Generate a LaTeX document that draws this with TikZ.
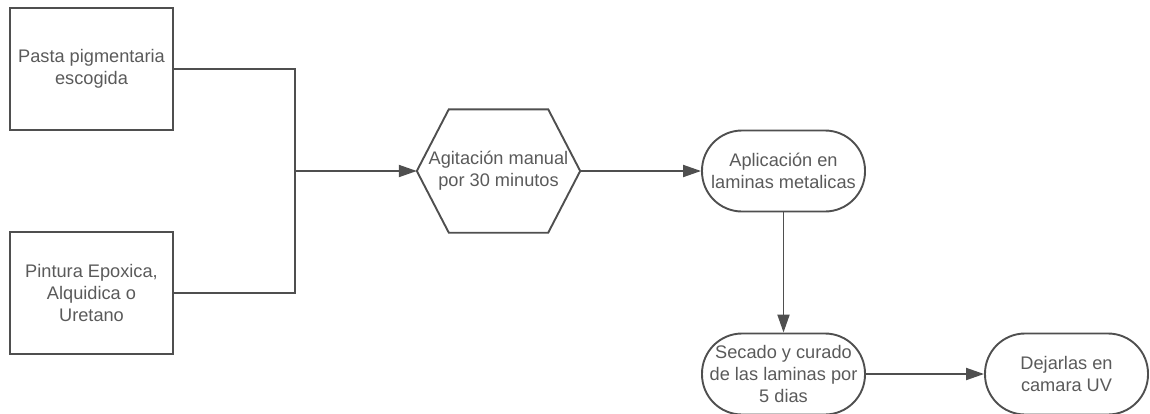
\documentclass[tikz,border=0pt]{standalone}
\usepackage{fontspec}
\setmainfont{Liberation Sans}
\usetikzlibrary{arrows.meta}
\definecolor{edge}{HTML}{4F4F4F}
\definecolor{ink}{HTML}{5A5A5A}
\begin{document}
\begin{tikzpicture}[x=1pt,y=-1pt,
  font=\fontsize{18.2}{22}\selectfont,
  wire/.style={draw=edge, line width=1.9pt},
  flow/.style={wire, -{Triangle[length=18pt,width=12pt]}},
  box/.style={wire, minimum width=163pt, minimum height=122pt,
    align=center, text=ink, inner sep=0pt},
  pill/.style={wire, rounded corners=40pt, minimum width=163pt,
    minimum height=81pt, align=center, text=ink, inner sep=0pt},
  hexbox/.style={minimum width=163pt, minimum height=123pt,
    align=center, text=ink, inner sep=0pt}]
\useasboundingbox (0,0) rectangle (1150,413);

% inputs
\node[box] (pasta) at (91.5,69) {Pasta pigmentaria\\escogida};
\node[box] (pintura) at (91.5,293) {Pintura Epoxica,\\Alquidica o\\Uretano};

% mixing step (hexagon)
\node[hexbox] (agit) at (498.5,171) {Agitación manual\\por 30 minutos};
\draw[wire] (agit.west) -- ([xshift=32pt]agit.north west)
  -- ([xshift=-32pt]agit.north east) -- (agit.east)
  -- ([xshift=-32pt]agit.south east) -- ([xshift=32pt]agit.south west) -- cycle;

% process steps
\node[pill] (aplic) at (783.5,171) {Aplicación en\\laminas metalicas};
\node[pill] (secado) at (783.5,374) {Secado y curado\\de las laminas por\\5 dias};
\node[pill] (dejar) at (1066.5,374) {Dejarlas en\\camara UV};

% connectors
\coordinate (join) at (295,171);
\draw[wire] (pasta.east) -| (join);
\draw[wire] (pintura.east) -| (join);
\draw[flow] (join) -- (agit.west);
\draw[flow] (agit.east) -- (aplic.west);
\draw[flow] (aplic.south) -- (secado.north);
\draw[flow] (secado.east) -- (dejar.west);
\end{tikzpicture}
\end{document}
